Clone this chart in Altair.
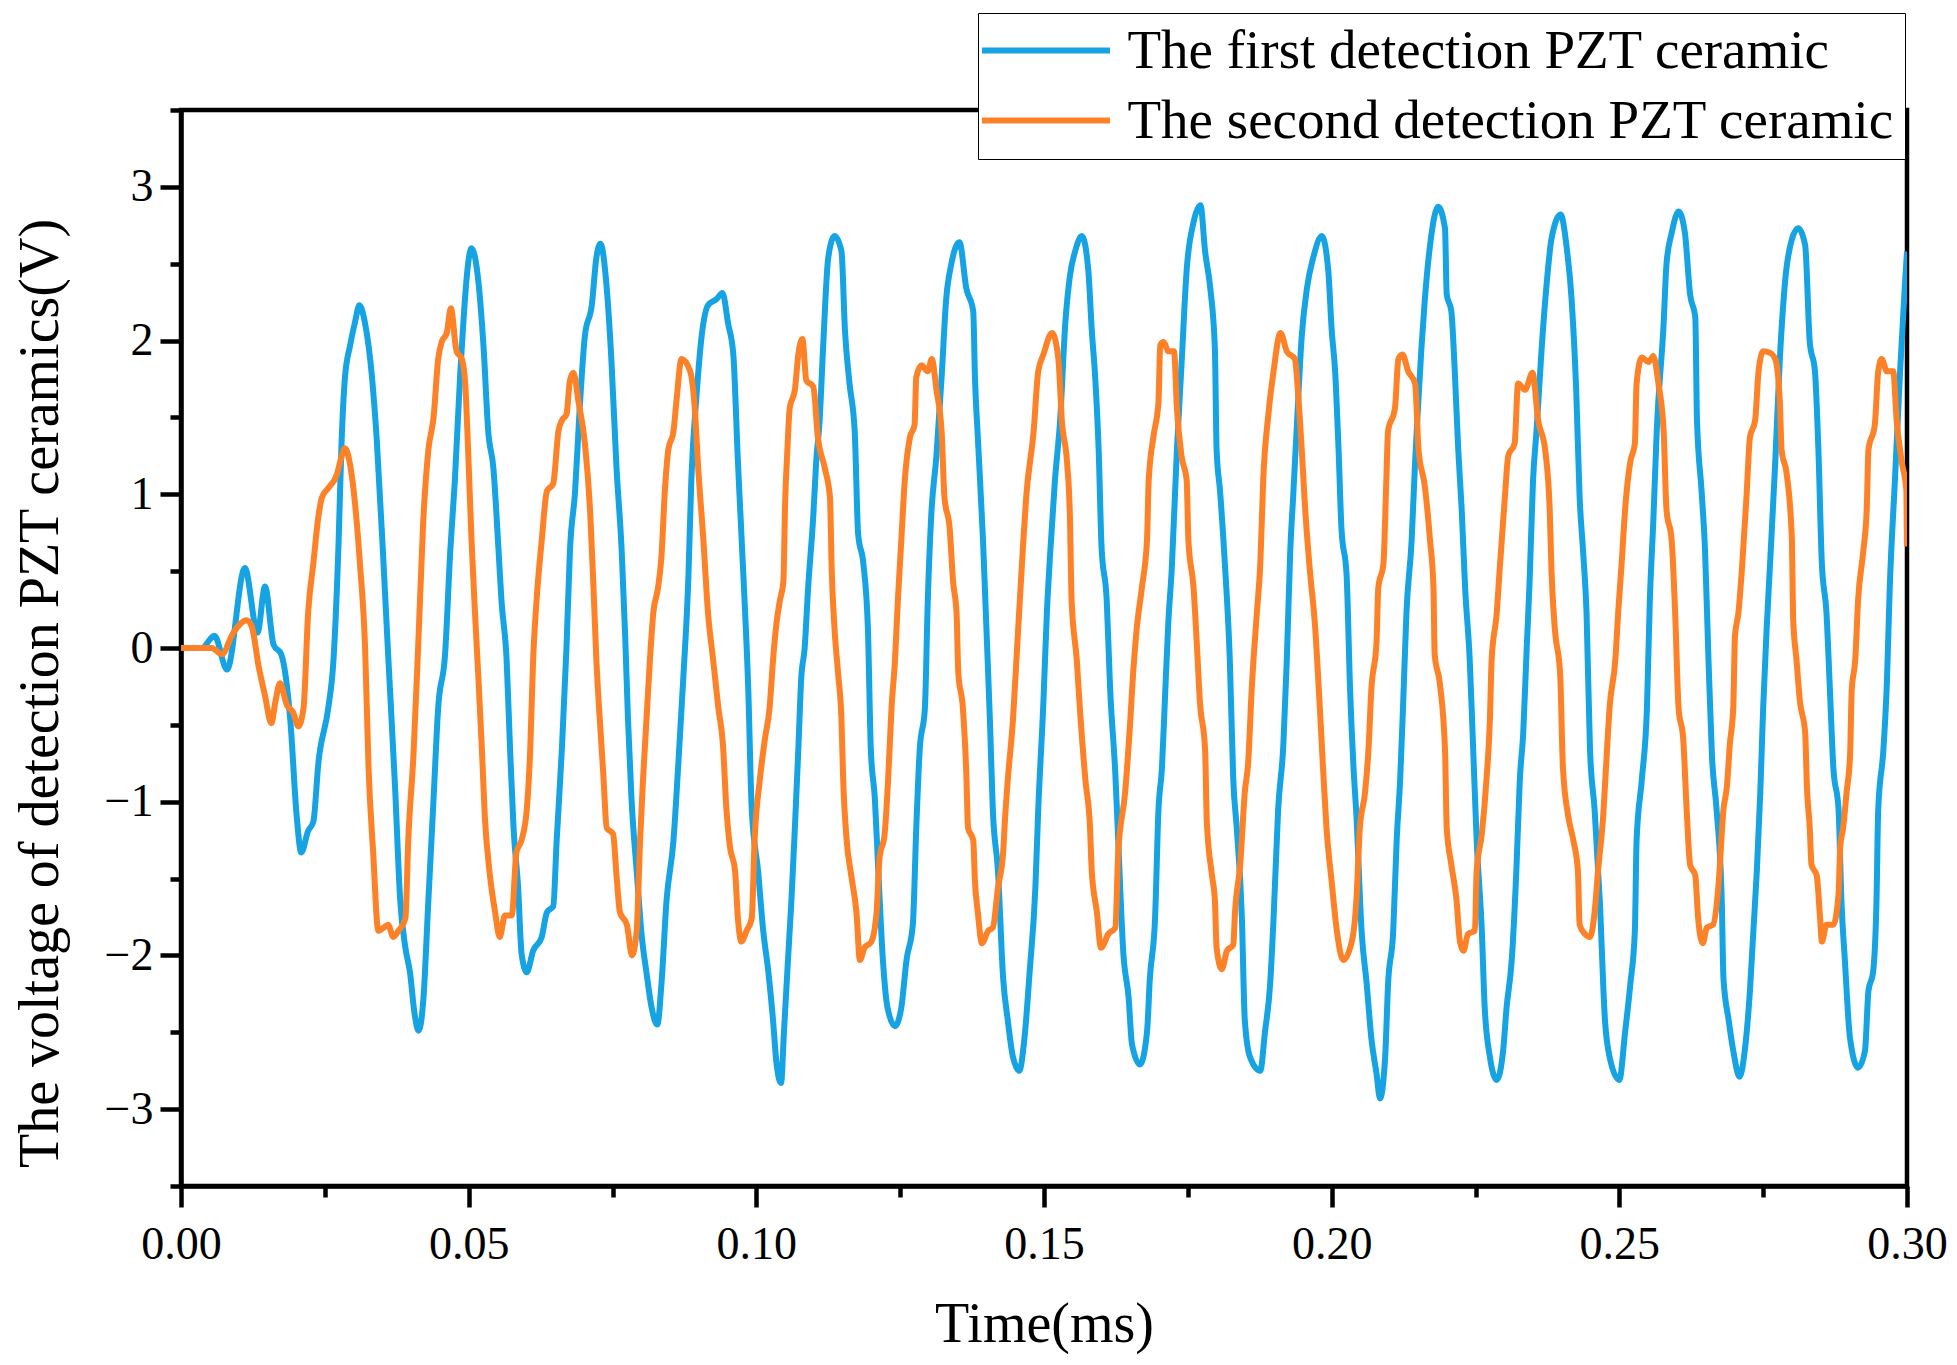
import altair as alt
import pandas as pd

FONT = "Liberation Serif"

series_names = ["The first detection PZT ceramic", "The second detection PZT ceramic"]
series_colors = ["#16a3e3", "#fd8126"]

# ── First detection PZT ceramic (blue), time in ms / voltage in V ────────────
time_first = [
    0.0, 0.0036, 0.0058, 0.0080, 0.0111, 0.0133, 0.0146, 0.0161, 0.0174, 0.0190,
    0.0201, 0.0209, 0.0221, 0.0230, 0.0239, 0.0256, 0.0265, 0.0274, 0.0279, 0.0285,
    0.0294, 0.0303, 0.0310, 0.0320, 0.0332, 0.0340, 0.0352, 0.0360, 0.0372, 0.0381,
    0.0390, 0.0398, 0.0406, 0.0413, 0.0421, 0.0430, 0.0439, 0.0447, 0.0459, 0.0468,
    0.0476, 0.0485, 0.0505, 0.0517, 0.0526, 0.0534, 0.0543, 0.0552, 0.0557, 0.0566,
    0.0572, 0.0578, 0.0586, 0.0592, 0.0601, 0.0612, 0.0627, 0.0636, 0.0647, 0.0653,
    0.0662, 0.0670, 0.0676, 0.0685, 0.0693, 0.0702, 0.0714, 0.0722, 0.0729, 0.0740,
    0.0748, 0.0757, 0.0766, 0.0772, 0.0777, 0.0783, 0.0792, 0.0801, 0.0809, 0.0818,
    0.0828, 0.0835, 0.0844, 0.0856, 0.0864, 0.0873, 0.0882, 0.0887, 0.0896, 0.0905,
    0.0916, 0.0931, 0.0941, 0.0951, 0.0960, 0.0968, 0.0977, 0.0986, 0.0992, 0.1003,
    0.1012, 0.1021, 0.1029, 0.1035, 0.1043, 0.1048, 0.1055, 0.1061, 0.1067, 0.1073,
    0.1078, 0.1084, 0.1090, 0.1099, 0.1104, 0.1110, 0.1116, 0.1125, 0.1136, 0.1148,
    0.1154, 0.1162, 0.1171, 0.1177, 0.1186, 0.1194, 0.1199, 0.1206, 0.1212, 0.1220,
    0.1228, 0.1241, 0.1252, 0.1261, 0.1272, 0.1278, 0.1284, 0.1293, 0.1298, 0.1304,
    0.1313, 0.1322, 0.1330, 0.1339, 0.1353, 0.1365, 0.1377, 0.1380, 0.1385, 0.1394,
    0.1400, 0.1406, 0.1411, 0.1420, 0.1429, 0.1437, 0.1446, 0.1457, 0.1466, 0.1475,
    0.1485, 0.1490, 0.1499, 0.1505, 0.1511, 0.1519, 0.1528, 0.1537, 0.1545, 0.1554,
    0.1566, 0.1577, 0.1583, 0.1589, 0.1595, 0.1600, 0.1609, 0.1615, 0.1624, 0.1629,
    0.1638, 0.1647, 0.1653, 0.1667, 0.1679, 0.1684, 0.1693, 0.1699, 0.1705, 0.1710,
    0.1716, 0.1722, 0.1731, 0.1739, 0.1748, 0.1760, 0.1772, 0.1780, 0.1789, 0.1797,
    0.1800, 0.1806, 0.1815, 0.1823, 0.1829, 0.1835, 0.1844, 0.1849, 0.1858, 0.1876,
    0.1884, 0.1893, 0.1899, 0.1907, 0.1916, 0.1922, 0.1928, 0.1933, 0.1939, 0.1948,
    0.1957, 0.1968, 0.1983, 0.1994, 0.2000, 0.2006, 0.2012, 0.2017, 0.2026, 0.2032,
    0.2038, 0.2043, 0.2052, 0.2061, 0.2069, 0.2078, 0.2084, 0.2093, 0.2098, 0.2107,
    0.2113, 0.2119, 0.2124, 0.2130, 0.2139, 0.2145, 0.2150, 0.2156, 0.2162, 0.2171,
    0.2185, 0.2197, 0.2200, 0.2208, 0.2214, 0.2220, 0.2226, 0.2232, 0.2240, 0.2246,
    0.2252, 0.2261, 0.2266, 0.2275, 0.2287, 0.2298, 0.2304, 0.2313, 0.2321, 0.2327,
    0.2333, 0.2339, 0.2344, 0.2350, 0.2356, 0.2365, 0.2373, 0.2382, 0.2398, 0.2408,
    0.2417, 0.2425, 0.2431, 0.2437, 0.2443, 0.2449, 0.2457, 0.2466, 0.2475, 0.2483,
    0.2500, 0.2510, 0.2519, 0.2527, 0.2530, 0.2539, 0.2548, 0.2553, 0.2559, 0.2565,
    0.2577, 0.2582, 0.2591, 0.2603, 0.2614, 0.2623, 0.2632, 0.2635, 0.2643, 0.2649,
    0.2655, 0.2661, 0.2669, 0.2678, 0.2681, 0.2690, 0.2698, 0.2709, 0.2718, 0.2727,
    0.2733, 0.2739, 0.2745, 0.2750, 0.2756, 0.2762, 0.2771, 0.2779, 0.2788, 0.2800,
    0.2811, 0.2823, 0.2831, 0.2840, 0.2846, 0.2852, 0.2860, 0.2866, 0.2872, 0.2881,
    0.2886, 0.2892, 0.2901, 0.2915, 0.2927, 0.2933, 0.2941, 0.2947, 0.2950, 0.2959,
    0.2965, 0.2970, 0.2979, 0.2988, 0.2996, 0.3000,
]
volt_first = [
    0.0, 0.0, 0.08, -0.14, 0.52, 0.10, 0.40, 0.02, -0.04, -0.47,
    -1.09, -1.33, -1.19, -1.13, -0.74, -0.39, -0.08, 0.70, 1.33, 1.76,
    1.97, 2.13, 2.23, 2.11, 1.76, 1.37, 0.55, -0.04, -0.90, -1.64,
    -1.95, -2.11, -2.38, -2.49, -2.30, -1.64, -0.98, -0.39, -0.04, 0.63,
    1.09, 1.76, 2.60, 2.38, 1.95, 1.41, 1.17, 0.63, 0.31, -0.08,
    -0.66, -1.17, -1.56, -1.99, -2.11, -1.97, -1.88, -1.72, -1.68, -1.25,
    -0.66, 0.0, 0.63, 1.02, 1.56, 2.03, 2.23, 2.54, 2.63, 2.34,
    1.88, 1.17, 0.63, 0.08, -0.47, -0.98, -1.45, -1.88, -2.11, -2.34,
    -2.45, -2.19, -1.64, -1.25, -0.78, -0.20, 0.47, 1.09, 1.64, 2.03,
    2.23, 2.27, 2.31, 2.11, 1.91, 1.21, 0.51, -0.27, -1.05, -1.45,
    -1.84, -2.11, -2.42, -2.70, -2.83, -2.50, -2.03, -1.64, -1.17, -0.66,
    -0.20, 0.0, 0.39, 0.86, 1.21, 1.48, 1.95, 2.54, 2.68, 2.58,
    2.07, 1.72, 1.41, 0.74, 0.55, 0.12, -0.66, -0.98, -1.45, -2.03,
    -2.34, -2.46, -2.34, -2.03, -1.80, -1.17, -0.66, -0.39, 0.31, 0.86,
    1.25, 1.76, 2.27, 2.50, 2.64, 2.34, 2.19, 1.76, 1.37, 0.70,
    0.12, -0.47, -1.05, -1.45, -2.15, -2.42, -2.66, -2.75, -2.54, -2.11,
    -1.56, -1.05, -0.35, 0.23, 0.63, 1.09, 1.48, 2.11, 2.42, 2.58,
    2.68, 2.46, 2.07, 1.76, 1.29, 0.66, 0.31, -0.27, -0.82, -1.25,
    -1.99, -2.27, -2.58, -2.71, -2.50, -2.15, -1.76, -1.05, -0.78, -0.35,
    0.16, 0.51, 1.29, 1.84, 2.46, 2.77, 2.88, 2.58, 2.34, 1.95,
    1.29, 1.02, 0.51, -0.08, -0.86, -1.17, -1.76, -2.42, -2.66, -2.75,
    -2.50, -2.19, -1.76, -1.05, -0.63, -0.08, 0.63, 0.98, 1.41, 2.03,
    2.34, 2.54, 2.68, 2.46, 2.07, 1.80, 1.29, 0.78, 0.47, -0.27,
    -0.78, -1.09, -1.84, -2.19, -2.54, -2.77, -2.93, -2.66, -2.19, -1.84,
    -1.25, -0.86, -0.39, 0.23, 0.70, 1.21, 1.56, 1.95, 2.27, 2.62,
    2.87, 2.73, 2.30, 2.19, 1.80, 1.29, 0.90, 0.39, -0.08, -0.66,
    -1.25, -1.84, -2.34, -2.66, -2.81, -2.62, -2.34, -2.03, -1.45, -0.86,
    -0.55, 0.0, 0.43, 1.09, 1.41, 1.95, 2.34, 2.66, 2.82, 2.62,
    2.27, 1.68, 0.98, 0.63, 0.23, -0.66, -1.05, -1.64, -2.42, -2.66,
    -2.81, -2.50, -2.19, -1.84, -1.25, -0.86, -0.39, 0.31, 0.82, 1.41,
    2.11, 2.50, 2.70, 2.84, 2.70, 2.30, 2.15, 1.48, 1.02, 0.63,
    -0.08, -0.70, -1.05, -1.64, -2.15, -2.42, -2.62, -2.79, -2.62, -2.23,
    -1.84, -1.45, -0.94, -0.39, 0.12, 0.55, 1.21, 1.88, 2.38, 2.66,
    2.73, 2.62, 1.99, 1.80, 1.29, 0.55, 0.23, -0.27, -0.78, -1.05,
    -1.64, -2.03, -2.54, -2.73, -2.62, -2.23, -2.11, -1.64, -1.05, -0.66,
    -0.23, 0.39, 1.09, 1.80, 2.34, 2.58,
]

# ── Second detection PZT ceramic (orange) ────────────────────────────────────
time_second = [
    0.0, 0.0053, 0.0071, 0.0091, 0.0114, 0.0123, 0.0135, 0.0146, 0.0157, 0.0164,
    0.0172, 0.0184, 0.0195, 0.0204, 0.0213, 0.0221, 0.0230, 0.0239, 0.0245, 0.0256,
    0.0271, 0.0278, 0.0285, 0.0294, 0.0303, 0.0311, 0.0320, 0.0326, 0.0334, 0.0343,
    0.0352, 0.0360, 0.0369, 0.0378, 0.0390, 0.0395, 0.0404, 0.0413, 0.0421, 0.0430,
    0.0439, 0.0447, 0.0453, 0.0462, 0.0469, 0.0479, 0.0488, 0.0494, 0.0499, 0.0505,
    0.0511, 0.0517, 0.0523, 0.0528, 0.0537, 0.0546, 0.0554, 0.0563, 0.0575, 0.0583,
    0.0592, 0.0601, 0.0607, 0.0612, 0.0618, 0.0627, 0.0636, 0.0647, 0.0656, 0.0662,
    0.0670, 0.0676, 0.0682, 0.0691, 0.0702, 0.0711, 0.0717, 0.0722, 0.0728, 0.0734,
    0.0740, 0.0751, 0.0757, 0.0763, 0.0775, 0.0784, 0.0792, 0.0798, 0.0803, 0.0809,
    0.0815, 0.0821, 0.0829, 0.0835, 0.0841, 0.0847, 0.0856, 0.0861, 0.0870, 0.0885,
    0.0893, 0.0899, 0.0908, 0.0916, 0.0925, 0.0934, 0.0942, 0.0948, 0.0954, 0.0963,
    0.0968, 0.0974, 0.0983, 0.0992, 0.0997, 0.1006, 0.1015, 0.1023, 0.1029, 0.1035,
    0.1041, 0.1047, 0.1050, 0.1054, 0.1058, 0.1067, 0.1073, 0.1080, 0.1087, 0.1099,
    0.1107, 0.1119, 0.1128, 0.1131, 0.1136, 0.1142, 0.1148, 0.1151, 0.1157, 0.1165,
    0.1174, 0.1180, 0.1188, 0.1200, 0.1209, 0.1214, 0.1223, 0.1229, 0.1235, 0.1241,
    0.1246, 0.1252, 0.1258, 0.1267, 0.1275, 0.1278, 0.1287, 0.1298, 0.1305, 0.1313,
    0.1322, 0.1327, 0.1336, 0.1342, 0.1348, 0.1351, 0.1359, 0.1365, 0.1368, 0.1377,
    0.1380, 0.1385, 0.1392, 0.1403, 0.1411, 0.1420, 0.1429, 0.1432, 0.1437, 0.1446,
    0.1452, 0.1458, 0.1463, 0.1469, 0.1482, 0.1490, 0.1499, 0.1514, 0.1525, 0.1531,
    0.1540, 0.1545, 0.1548, 0.1557, 0.1563, 0.1572, 0.1580, 0.1583, 0.1592, 0.1599,
    0.1612, 0.1624, 0.1629, 0.1641, 0.1650, 0.1655, 0.1661, 0.1670, 0.1679, 0.1682,
    0.1690, 0.1699, 0.1702, 0.1708, 0.1716, 0.1726, 0.1731, 0.1739, 0.1748, 0.1751,
    0.1760, 0.1766, 0.1771, 0.1780, 0.1783, 0.1792, 0.1797, 0.1800, 0.1809, 0.1818,
    0.1829, 0.1832, 0.1841, 0.1849, 0.1855, 0.1861, 0.1870, 0.1876, 0.1881, 0.1890,
    0.1899, 0.1911, 0.1922, 0.1936, 0.1942, 0.1948, 0.1954, 0.1962, 0.1971, 0.1980,
    0.1985, 0.1991, 0.2000, 0.2009, 0.2020, 0.2035, 0.2043, 0.2049, 0.2058, 0.2064,
    0.2069, 0.2078, 0.2081, 0.2090, 0.2095, 0.2098, 0.2110, 0.2116, 0.2123, 0.2133,
    0.2145, 0.2151, 0.2162, 0.2171, 0.2177, 0.2179, 0.2188, 0.2197, 0.2200, 0.2208,
    0.2217, 0.2223, 0.2229, 0.2237, 0.2249, 0.2252, 0.2261, 0.2269, 0.2275, 0.2278,
    0.2287, 0.2292, 0.2301, 0.2307, 0.2318, 0.2324, 0.2336, 0.2349, 0.2359, 0.2371,
    0.2379, 0.2382, 0.2388, 0.2397, 0.2402, 0.2411, 0.2420, 0.2428, 0.2431, 0.2440,
    0.2449, 0.2457, 0.2463, 0.2472, 0.2478, 0.2483, 0.2493, 0.2498, 0.2504, 0.2510,
    0.2519, 0.2527, 0.2530, 0.2539, 0.2551, 0.2559, 0.2568, 0.2577, 0.2582, 0.2591,
    0.2597, 0.2603, 0.2611, 0.2617, 0.2623, 0.2632, 0.2637, 0.2645, 0.2652, 0.2663,
    0.2672, 0.2681, 0.2687, 0.2692, 0.2698, 0.2701, 0.2707, 0.2713, 0.2721, 0.2727,
    0.2736, 0.2742, 0.2750, 0.2762, 0.2771, 0.2779, 0.2782, 0.2791, 0.2800, 0.2802,
    0.2808, 0.2814, 0.2823, 0.2826, 0.2831, 0.2834, 0.2843, 0.2849, 0.2852, 0.2860,
    0.2872, 0.2881, 0.2884, 0.2889, 0.2895, 0.2901, 0.2904, 0.2910, 0.2915, 0.2924,
    0.2930, 0.2933, 0.2944, 0.2950, 0.2956, 0.2965, 0.2976, 0.2982, 0.2991, 0.2999,
    0.3000,
]
volt_second = [
    0.0, 0.0, -0.04, 0.10, 0.18, 0.14, -0.12, -0.31, -0.49, -0.35,
    -0.23, -0.37, -0.42, -0.51, -0.39, 0.23, 0.55, 0.86, 0.98, 1.04,
    1.13, 1.23, 1.30, 1.19, 0.92, 0.55, 0.0, -0.78, -1.33, -1.84,
    -1.82, -1.80, -1.88, -1.84, -1.76, -1.25, -0.70, 0.08, 0.82, 1.29,
    1.50, 1.88, 1.99, 2.05, 2.21, 1.93, 1.88, 1.72, 1.29, 0.70,
    0.23, -0.20, -0.66, -1.09, -1.48, -1.72, -1.88, -1.74, -1.74, -1.33,
    -1.25, -1.05, -0.66, -0.08, 0.31, 0.70, 1.02, 1.07, 1.41, 1.48,
    1.52, 1.74, 1.79, 1.60, 1.33, 0.90, 0.39, -0.08, -0.47, -0.82,
    -1.17, -1.21, -1.48, -1.72, -1.80, -2.00, -1.84, -1.25, -0.86, -0.47,
    -0.08, 0.23, 0.39, 0.59, 1.02, 1.29, 1.41, 1.60, 1.88, 1.80,
    1.56, 1.17, 0.70, 0.23, -0.08, -0.39, -0.63, -1.05, -1.29, -1.45,
    -1.76, -1.91, -1.84, -1.76, -1.25, -0.86, -0.59, -0.39, -0.08, 0.16,
    0.31, 0.43, 0.94, 1.29, 1.56, 1.68, 1.91, 2.01, 1.74, 1.70,
    1.37, 1.17, 0.98, 0.51, 0.12, -0.16, -0.47, -0.86, -1.25, -1.48,
    -1.72, -2.03, -1.95, -1.91, -1.72, -1.37, -1.21, -0.86, -0.39, -0.08,
    0.31, 0.70, 1.09, 1.37, 1.45, 1.76, 1.84, 1.80, 1.88, 1.68,
    1.41, 0.98, 0.78, 0.43, 0.23, -0.16, -0.39, -0.82, -1.17, -1.25,
    -1.52, -1.72, -1.92, -1.84, -1.82, -1.56, -1.33, -1.13, -0.86, -0.47,
    -0.08, 0.31, 0.63, 0.98, 1.41, 1.80, 1.91, 2.05, 1.88, 1.48,
    1.21, 0.86, 0.31, -0.08, -0.43, -0.86, -1.17, -1.45, -1.72, -1.95,
    -1.86, -1.82, -1.33, -0.94, -0.47, -0.16, 0.12, 0.39, 0.70, 1.09,
    1.37, 1.60, 1.97, 1.99, 1.93, 1.93, 1.56, 1.25, 1.09, 0.70,
    0.39, 0.0, -0.35, -0.66, -1.13, -1.48, -1.64, -1.95, -2.09, -1.97,
    -1.93, -1.72, -1.41, -0.94, -0.74, -0.27, 0.23, 0.55, 1.09, 1.52,
    1.80, 2.05, 1.93, 1.88, 1.64, 1.29, 0.90, 0.51, 0.15, -0.43,
    -0.78, -1.17, -1.52, -1.84, -2.03, -1.91, -1.64, -1.17, -0.94, -0.66,
    -0.27, 0.04, 0.39, 0.55, 1.09, 1.41, 1.56, 1.88, 1.91, 1.80,
    1.72, 1.29, 1.05, 0.70, 0.39, -0.04, -0.23, -0.66, -1.17, -1.41,
    -1.64, -1.91, -1.97, -1.86, -1.84, -1.45, -1.21, -0.86, -0.47, -0.08,
    0.23, 0.51, 0.98, 1.25, 1.33, 1.72, 1.68, 1.79, 1.48, 1.29,
    0.90, 0.51, 0.12, -0.16, -0.78, -1.09, -1.25, -1.45, -1.80, -1.86,
    -1.88, -1.72, -1.45, -1.09, -0.70, -0.39, -0.08, 0.23, 0.55, 0.90,
    1.21, 1.33, 1.72, 1.89, 1.86, 1.90, 1.72, 1.41, 0.90, 0.70,
    0.23, -0.39, -0.59, -1.05, -1.41, -1.48, -1.76, -1.92, -1.82, -1.80,
    -1.56, -1.05, -0.90, -0.63, -0.39, 0.08, 0.23, 0.51, 0.98, 1.37,
    1.48, 1.80, 1.93, 1.92, 1.88, 1.60, 1.29, 1.13, 0.70, 0.20,
    -0.08, -0.35, -0.55, -0.90, -1.17, -1.41, -1.48, -1.76, -1.91, -1.80,
    -1.80, -1.60, -1.29, -1.17, -0.94, -0.70, -0.27, -0.08, 0.31, 0.63,
    0.90, 1.29, 1.45, 1.80, 1.88, 1.80, 1.80, 1.48, 1.21, 1.02,
    0.66,
]

# ── Axis tick positions ──────────────────────────────────────────────────────
x_ticks = [0.0, 0.025, 0.05, 0.075, 0.10, 0.125, 0.15, 0.175, 0.20,
           0.225, 0.25, 0.275, 0.30]
y_ticks = [-3.5, -3.0, -2.5, -2.0, -1.5, -1.0, -0.5, 0.0,
           0.5, 1.0, 1.5, 2.0, 2.5, 3.0, 3.5]

frames = []
for name, ts, vs in [(series_names[0], time_first, volt_first),
                     (series_names[1], time_second, volt_second)]:
    frames.append(pd.DataFrame({"time": ts, "volt": vs, "series": name,
                                "idx": range(len(ts))}))
df = pd.concat(frames, ignore_index=True)

x_axis = alt.Axis(
    values=x_ticks, format=".2f",
    labelExpr="round(datum.value * 1000) % 50 == 0 ? datum.label : ''",
    tickSize={"condition": {"test": "round(datum.value * 1000) % 50 != 0", "value": 11},
              "value": 21},
    tickWidth=4.5, tickColor="black", domainColor="black", domainWidth=4.5,
    labelFont=FONT, labelFontSize=46, labelColor="black",
    labelBaseline="alphabetic", labelPadding=51, labelFlush=False,
    title="Time(ms)", titleFont=FONT, titleFontSize=56, titleFontWeight="normal",
    titleColor="black", titleBaseline="alphabetic", titleX=863, titleY=155,
    grid=False,
)
y_axis = alt.Axis(
    values=y_ticks, format=".0f",
    labelExpr="datum.value % 1 == 0 ? datum.label : ''",
    tickSize={"condition": {"test": "datum.value % 1 != 0", "value": 11},
              "value": 21},
    tickWidth=4.5, tickColor="black", domainColor="black", domainWidth=4.5,
    labelFont=FONT, labelFontSize=46, labelColor="black",
    labelPadding=7, labelFlush=False,
    title="The voltage of detection PZT ceramics(V)", titleFont=FONT,
    titleFontSize=56, titleFontWeight="normal", titleColor="black",
    titleBaseline="alphabetic", titleX=-124, titleY=583,
    grid=False,
)

legend = alt.Legend(
    title=None, orient="none", legendX=797, legendY=-97, direction="vertical",
    symbolType="M-5,0H5", symbolSize=655, symbolStrokeWidth=6,
    symbolOffset=30.5, labelOffset=54,
    labelFont=FONT, labelFontSize=55, labelColor="black", labelLimit=2000,
    strokeColor="black", fillColor="white", padding=10, rowPadding=14,
)

chart = alt.Chart(df).mark_line(
    strokeWidth=6, clip=True, strokeJoin="round", interpolate="monotone"
).encode(
    x=alt.X("time:Q", scale=alt.Scale(domain=[0, 0.3], nice=False, zero=False), axis=x_axis),
    y=alt.Y("volt:Q", scale=alt.Scale(domain=[-3.5, 3.5], nice=False), axis=y_axis),
    color=alt.Color("series:N",
                    scale=alt.Scale(domain=series_names, range=series_colors),
                    legend=legend),
    order="idx:Q",
).properties(
    width=1726, height=1076,
    autosize=alt.AutoSizeParams(type="none"),
    padding={"left": 173, "top": 102, "right": 42, "bottom": 171},
    background="white",
).configure_view(
    stroke="black", strokeWidth=4.5
)

chart.save("out.html", embed_options={"renderer": "svg", "actions": False})
